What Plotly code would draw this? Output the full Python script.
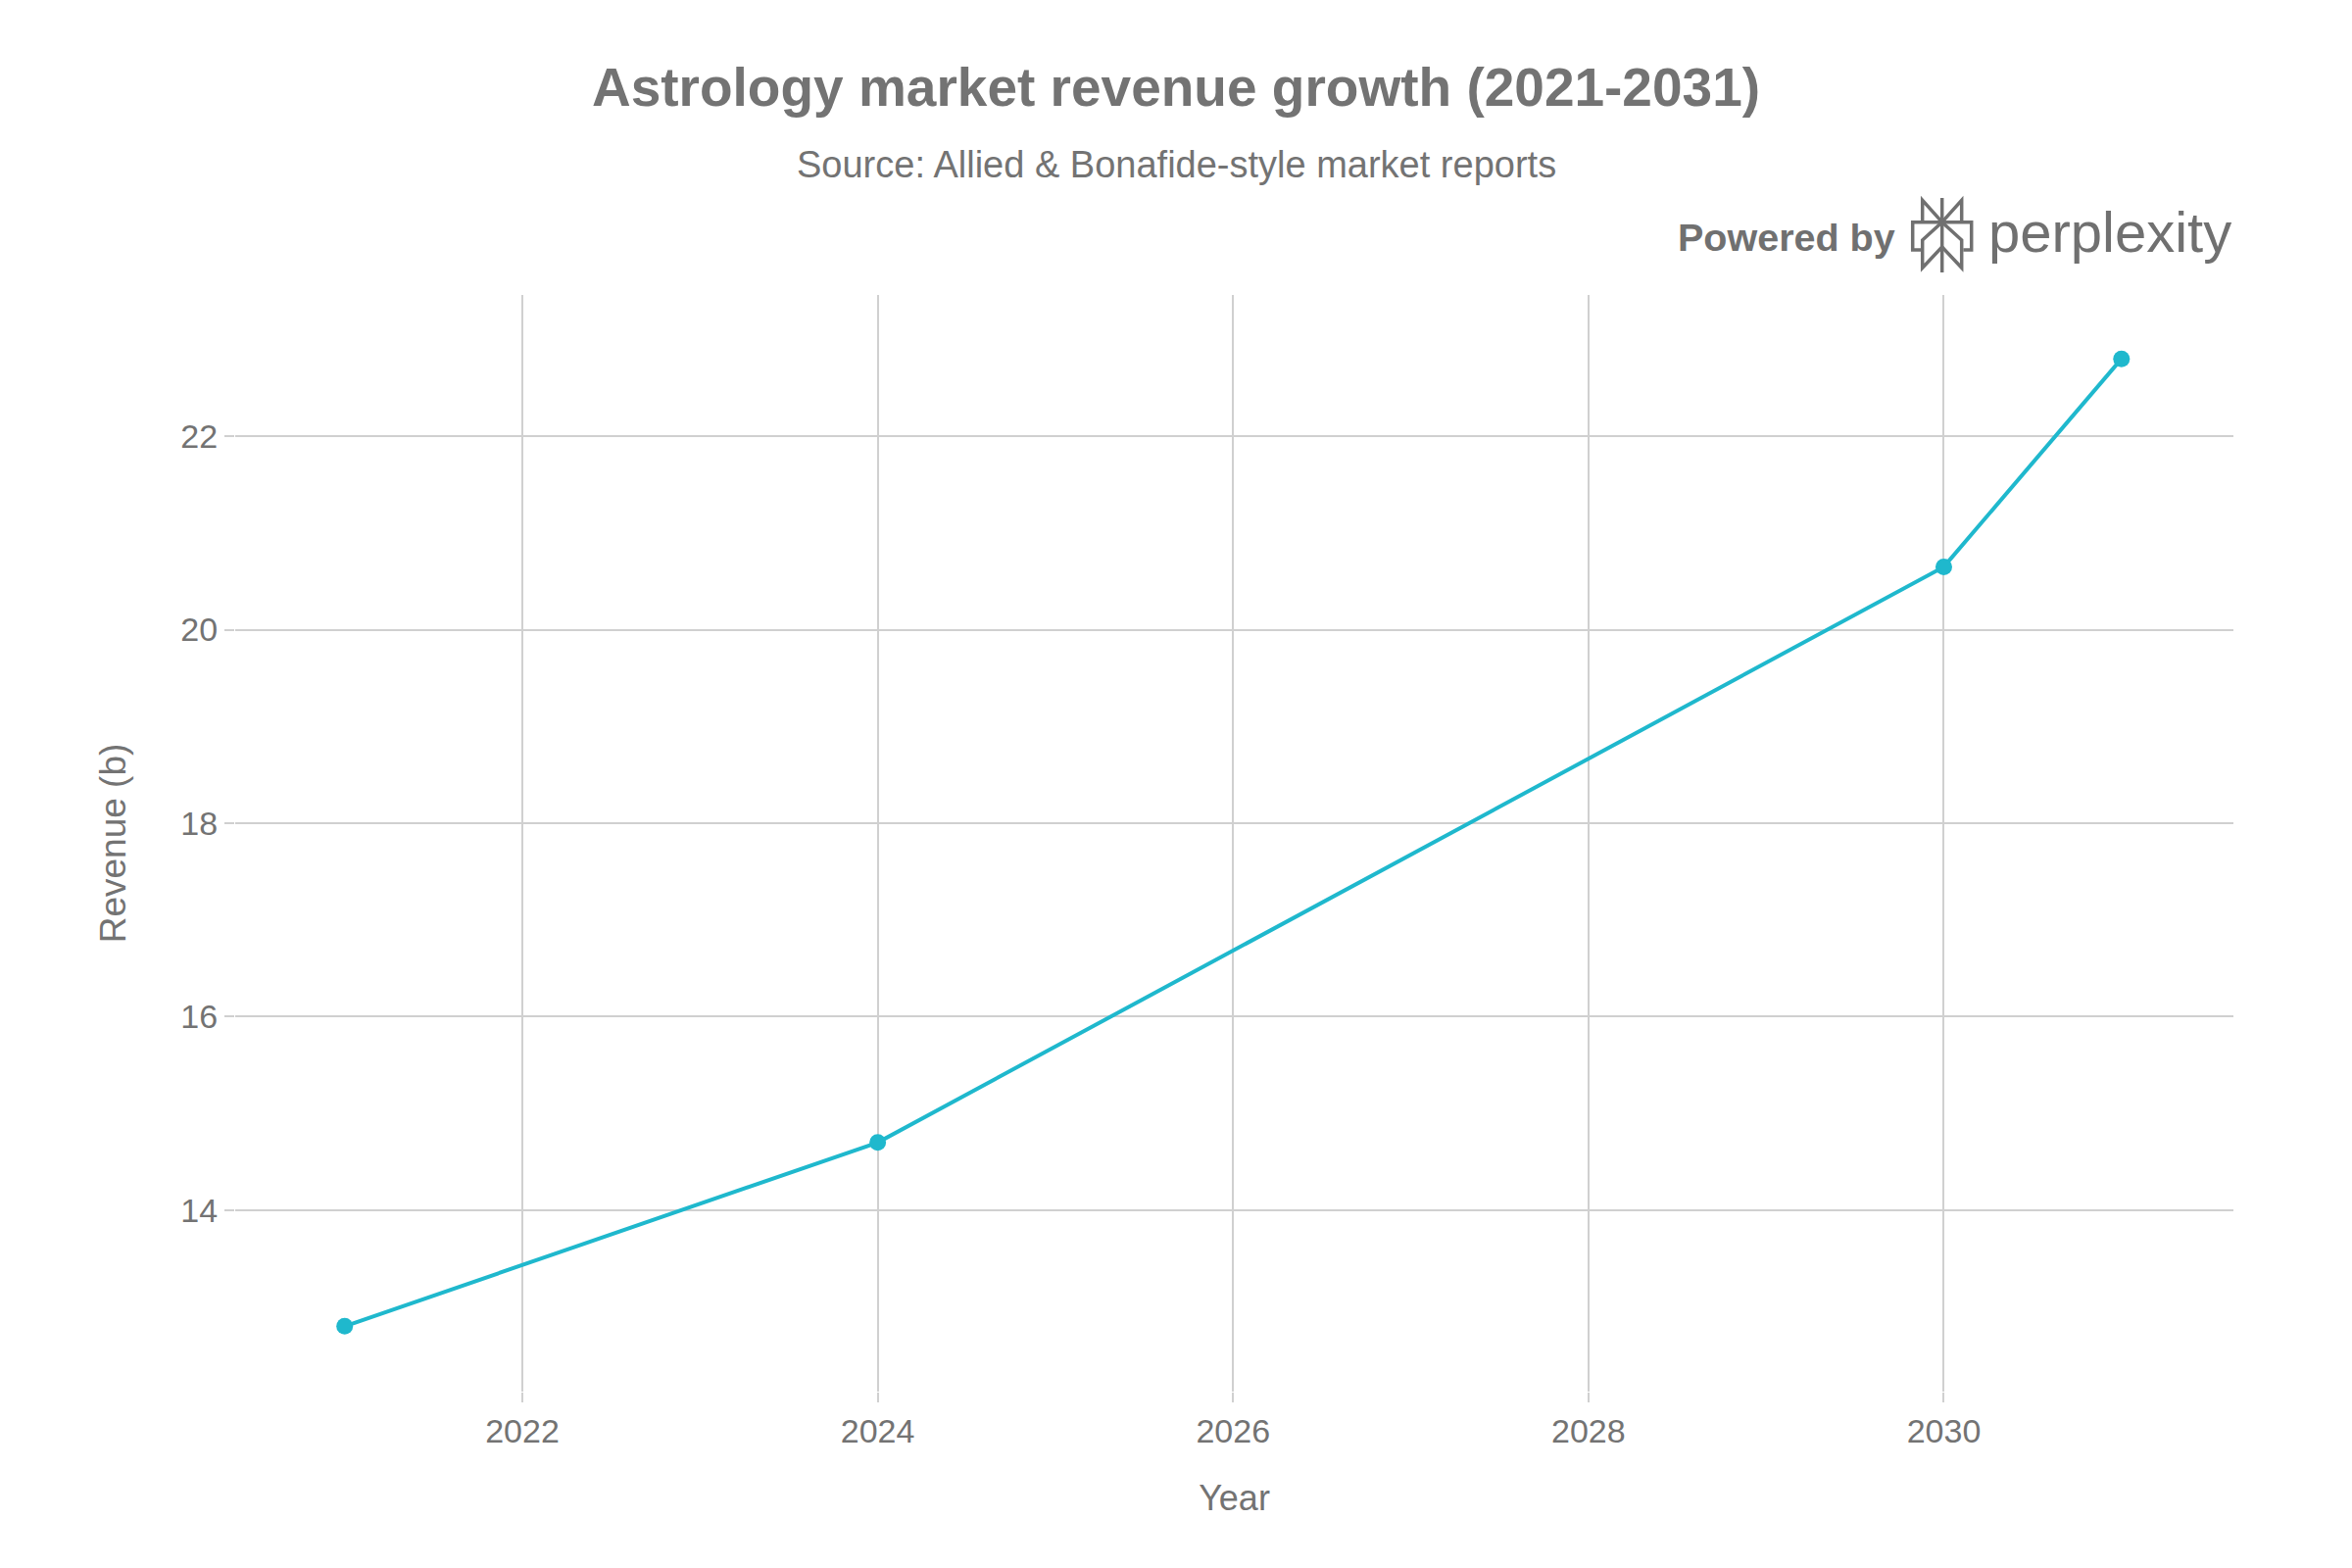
import plotly.graph_objects as go

years = [2021, 2024, 2030, 2031]
revenue = [12.8, 14.7, 20.65, 22.8]

title_text = "Astrology market revenue growth (2021-2031)"
subtitle_text = "Source: Allied & Bonafide-style market reports"
x_title = "Year"
y_title = "Revenue (b)"
x_ticks = [2022, 2024, 2026, 2028, 2030]
y_ticks = [14, 16, 18, 20, 22]

W, H = 2400, 1600
L, R, T, B = 240, 121, 301, 180
PW, PH = W - L - R, H - T - B

def px(x):
    return (x - L) / PW

def py(y):
    return (H - B - y) / PH

TEXT = "#737373"
GRID = "#d0d0d0"
FONT = "Liberation Sans, Arial, sans-serif"

fig = go.Figure()
fig.add_trace(go.Scatter(
    x=years, y=revenue, mode="lines+markers",
    line=dict(color="#1FB8CD", width=4),
    marker=dict(color="#1FB8CD", size=17),
    showlegend=False,
    hovertemplate="%{x}: %{y}b<extra></extra>",
))

fig.update_layout(
    width=W, height=H,
    margin=dict(l=L, r=R, t=T, b=B, autoexpand=False),
    paper_bgcolor="white", plot_bgcolor="white",
    font=dict(family=FONT, color=TEXT, size=33),
    title=dict(text="<b>" + title_text + "</b>", x=0.5, xanchor="center",
               y=1 - 89 / H, yanchor="middle", yref="container",
               font=dict(size=55, color=TEXT, family=FONT)),
    xaxis=dict(range=[2020.384, 2031.63], tickvals=x_ticks,
               showgrid=True, gridcolor=GRID, gridwidth=1.5,
               zeroline=False, showline=False,
               ticks="outside", ticklen=10, tickwidth=2, tickcolor=GRID,
               tickfont=dict(size=34, color=TEXT),
               title=dict(text=x_title, standoff=38, font=dict(size=36, color=TEXT))),
    yaxis=dict(range=[12.125, 23.46], tickvals=y_ticks,
               showgrid=True, gridcolor=GRID, gridwidth=1.5,
               zeroline=False, showline=False,
               ticks="outside", ticklen=10, tickwidth=2, tickcolor=GRID,
               tickfont=dict(size=34, color=TEXT),
               title=dict(text=y_title, standoff=44, font=dict(size=37, color=TEXT))),
)

fig.add_annotation(text=subtitle_text, xref="paper", yref="paper",
                   x=px(1200), y=py(168), xanchor="center", yanchor="middle",
                   showarrow=False, font=dict(size=38, color=TEXT, family=FONT))

fig.add_annotation(text="<b>Powered by</b>", xref="paper", yref="paper",
                   x=px(1936), y=py(242), xanchor="right", yanchor="middle",
                   showarrow=False, font=dict(size=39.5, color="#707070", family=FONT))
fig.add_annotation(text="perplexity", xref="paper", yref="paper",
                   x=px(2027), y=py(236), xanchor="left", yanchor="middle",
                   showarrow=False, font=dict(size=58, color="#707070", family=FONT))

# logo icon
def path(points):
    return "M " + " L ".join(f"{px(a):.5f},{py(b):.5f}" for a, b in points)

cx, lx, rx, ox1, ox2 = 1981.7, 1961.7, 2001.7, 1951.7, 2011.7
yt, yb, ys, yi, yl = 204.3, 226.7, 255.0, 245.0, 273.3
logo_paths = [
    [(cx, 202), (cx, 278)],
    [(lx, yb), (lx, yt), (cx, yb)],
    [(rx, yb), (rx, yt), (cx, yb)],
    [(1960, ys), (ox1, ys), (ox1, yb), (ox2, yb), (ox2, ys), (2003.4, ys)],
    [(cx, yb), (lx, yi), (lx, yl), (cx, 252)],
    [(cx, yb), (rx, yi), (rx, yl), (cx, 252)],
]
for pts in logo_paths:
    fig.add_shape(type="path", path=path(pts), xref="paper", yref="paper",
                  line=dict(color="#707070", width=3.5), layer="above")

fig.write_html("out.html")
